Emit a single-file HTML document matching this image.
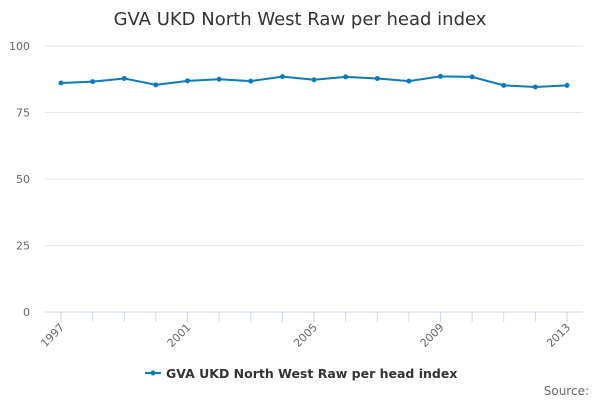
<!DOCTYPE html>
<html><head><meta charset="utf-8"><style>
body{margin:0;width:600px;height:400px;background:#fff;font-family:"Liberation Sans","DejaVu Sans",sans-serif;overflow:hidden}
</style></head><body>
<svg id="c" width="600" height="400" font-family="DejaVu Sans, Liberation Sans, sans-serif">
<text x="300" y="25" text-anchor="middle" font-size="18" fill="#333">GVA UKD North West Raw per head index</text>
<g id="grid"></g><g id="xax"></g><g id="series"></g>
<g>
<line x1="145" y1="373" x2="161" y2="373" stroke="#0a7bc1" stroke-width="2"/>
<circle cx="153" cy="373" r="2.5" fill="#0a7bc1"/>
<text x="166" y="378" font-size="12.5" font-weight="bold" fill="#333">GVA UKD North West Raw per head index</text>
</g>
<text x="589" y="395" text-anchor="end" font-size="12" fill="#666">Source:</text>
</svg>
<script>
const years=[1997,1998,1999,2000,2001,2002,2003,2004,2005,2006,2007,2008,2009,2010,2011,2012,2013];
const values=[86.1,86.6,87.8,85.4,86.9,87.5,86.8,88.5,87.3,88.4,87.8,86.8,88.6,88.4,85.2,84.6,85.2];
const yTicks=[0,25,50,75,100];
const xLabels=[1997,2001,2005,2009,2013];
const NS="http://www.w3.org/2000/svg";
const X=y=>61+(y-1997)*(567-61)/16;
const Y=v=>312-v*2.66;
function mk(t,a,p){const e=document.createElementNS(NS,t);for(const k in a)e.setAttribute(k,a[k]);p.appendChild(e);return e;}
const g=document.getElementById('grid');
yTicks.forEach(v=>{
 const l=mk('line',{x1:45,x2:583,y1:Y(v),y2:Y(v),stroke:v==0?'#ccd6eb':'#e6e6e6'},g);
 
 
 const t=mk('text',{x:30,y:Y(v)+4,'text-anchor':'end','font-size':11,fill:'#666'},g);t.textContent=v;
 
 
});
const xa=document.getElementById('xax');
years.forEach(y=>{
 const l=mk('line',{x1:X(y),x2:X(y),y1:312,y2:322,stroke:'#ccd6eb'},xa);
 
 
});
xLabels.forEach(y=>{
 const t=mk('text',{x:X(y)+4,y:328,'text-anchor':'end','font-size':11,fill:'#666',transform:`rotate(-45 ${X(y)+4} 328)`},xa);t.textContent=y;
 
 
});
const s=document.getElementById('series');
const p=mk('polyline',{points:years.map((y,i)=>X(y)+','+Y(values[i])).join(' '),fill:'none',stroke:'#0a7bc1','stroke-width':2},s);


years.forEach((y,i)=>{
 const c=mk('circle',{cx:X(y),cy:Y(values[i]),r:2.5,fill:'#0a7bc1'},s);
 
 
});
</script>
</body></html>
